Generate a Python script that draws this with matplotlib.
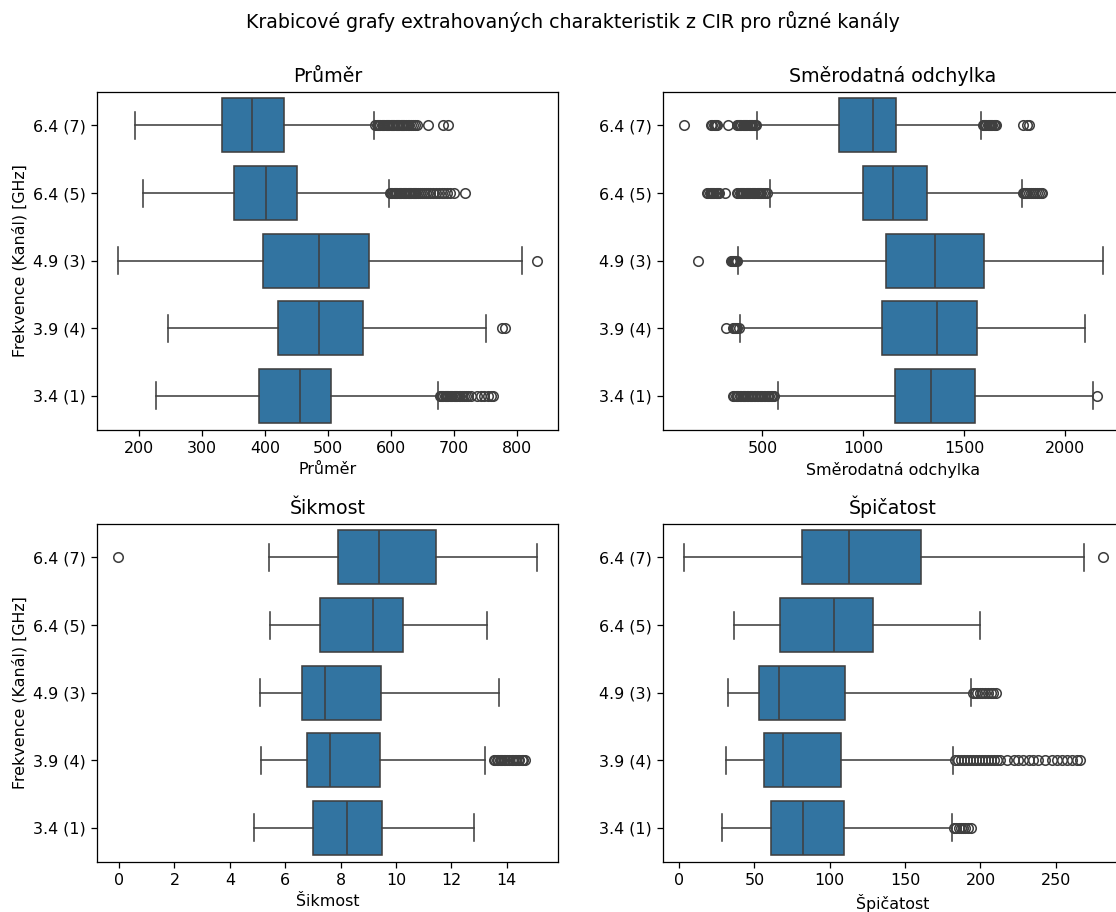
import matplotlib
matplotlib.use("Agg")
import matplotlib.pyplot as plt

# Channel labels (top to bottom)
channels = ["6.4 (7)", "6.4 (5)", "4.9 (3)", "3.9 (4)", "3.4 (1)"]

# --- Průměr (mean) ---
mean_q1 = [332, 350.6, 396.5, 421, 390]
mean_med = [379.5, 402, 485, 485.7, 455]
mean_q3 = [429.8, 450, 564.5, 554.5, 504]
mean_lo = [194, 206, 166.7, 245, 226]
mean_hi = [573, 596, 808, 751, 675]
mean_fliers = [
    [575, 577, 579, 581, 583, 585, 587, 589, 591, 593, 595, 597, 599, 601, 603,
     605, 607, 609, 611, 613, 615, 617, 619, 621, 623, 626, 629, 632, 635, 638,
     641, 658, 682, 691],
    [598, 600, 602, 604, 606, 608, 610, 612, 614, 616, 618, 620, 622, 624, 626,
     628, 630, 632, 634, 636, 638, 640, 643, 646, 649, 652, 655, 658, 661, 666,
     671, 676, 680, 684, 689, 694, 700, 718],
    [832],
    [776, 780],
    [677, 679, 681, 683, 685, 687, 689, 691, 693, 695, 697, 699, 701, 703, 705,
     707, 710, 713, 716, 719, 722, 727, 737, 742, 748, 753, 758, 762],
]

# --- Směrodatná odchylka (standard deviation) ---
std_q1 = [880, 999, 1111, 1093, 1159]
std_med = [1047, 1146, 1357, 1364, 1334]
std_q3 = [1164, 1317, 1600, 1563, 1555]
std_lo = [472, 538, 381, 390, 578]
std_hi = [1585, 1786, 2186, 2098, 2141]
std_fliers = [
    [109, 246, 252, 258, 264, 270, 277, 329, 372, 378, 384, 390, 396, 402, 408,
     414, 420, 426, 432, 438, 444, 450, 456, 462, 468,
     1592, 1598, 1604, 1610, 1616, 1622, 1628, 1634, 1640, 1646, 1652, 1658,
     1793, 1814, 1822],
    [226, 232, 238, 244, 250, 256, 262, 268, 274, 280, 285, 315, 375, 381, 387,
     393, 399, 405, 411, 417, 423, 429, 435, 441, 447, 453, 459, 465, 471, 477,
     483, 489, 495, 505, 515, 525,
     1790, 1796, 1802, 1808, 1814, 1820, 1830, 1840, 1850, 1860, 1870, 1880, 1887],
    [180, 345, 350, 355, 360, 365, 370, 375],
    [320, 352, 358, 364, 370, 376, 382],
    [353, 360, 367, 374, 381, 388, 395, 402, 409, 416, 423, 430, 437, 444, 451,
     458, 465, 472, 479, 486, 493, 500, 507, 514, 521, 528, 535, 542, 549, 556,
     2161],
]

# --- Šikmost (skewness) ---
skew_q1 = [7.92, 7.27, 6.61, 6.78, 6.99]
skew_med = [9.40, 9.17, 7.45, 7.63, 8.25]
skew_q3 = [11.46, 10.24, 9.48, 9.42, 9.49]
skew_lo = [5.43, 5.46, 5.10, 5.11, 4.88]
skew_hi = [15.11, 13.30, 13.71, 13.22, 12.83]
skew_fliers = [
    [-0.03],
    [],
    [],
    [13.55, 13.6, 13.65, 13.7, 13.75, 13.8, 13.85, 13.9, 13.95, 14.0, 14.1,
     14.2, 14.25, 14.3, 14.35, 14.4, 14.45, 14.55, 14.6, 14.65],
    [],
]

# --- Špičatost (kurtosis) ---
kurt_q1 = [81.4, 66.8, 53.3, 56.6, 60.8]
kurt_med = [112.6, 102.7, 66.2, 69.0, 81.9]
kurt_q3 = [160.2, 128.8, 110.4, 107.1, 109.3]
kurt_lo = [2.9, 36.5, 32.5, 31.4, 28.5]
kurt_hi = [268.8, 200.0, 194.0, 181.6, 181.0]
kurt_fliers = [
    [281.0],
    [],
    [195, 196.5, 198, 199.5, 201, 203, 205, 207, 208.5, 210],
    [183, 185, 187, 189, 191, 193, 195, 197, 199, 201, 203, 205, 207, 209, 211,
     213, 217.5, 222, 225, 228.5, 232, 235, 238.5, 243, 247.5, 250.7, 254,
     257.3, 260.6, 264, 266],
    [182.5, 184, 185.5, 187, 188.5, 190, 192, 194],
]

panels = [
    ("Průměr", mean_q1, mean_med, mean_q3, mean_lo, mean_hi, mean_fliers),
    ("Směrodatná odchylka", std_q1, std_med, std_q3, std_lo, std_hi, std_fliers),
    ("Šikmost", skew_q1, skew_med, skew_q3, skew_lo, skew_hi, skew_fliers),
    ("Špičatost", kurt_q1, kurt_med, kurt_q3, kurt_lo, kurt_hi, kurt_fliers),
]

FACE = "#3274a1"
LINE = "#3f3f3f"
LW = 1.0

DPI = 114
fig, axes = plt.subplots(2, 2, figsize=(1116 / DPI, 912 / DPI), dpi=DPI)
fig.subplots_adjust(left=0.0872, right=1.0067, bottom=0.0552, top=0.8995,
                    wspace=0.2263, hspace=0.278)

for idx, (ax, (name, q1, med, q3, lo, hi, fl)) in enumerate(zip(axes.flat, panels)):
    stats = []
    for i in range(len(channels)):
        stats.append(dict(q1=q1[i], med=med[i], q3=q3[i],
                          whislo=lo[i], whishi=hi[i], fliers=fl[i]))
    ax.bxp(stats, positions=range(len(channels)), widths=0.8, capwidths=0.4,
           orientation="horizontal", patch_artist=True, manage_ticks=False,
           boxprops=dict(facecolor=FACE, edgecolor=LINE, linewidth=LW),
           medianprops=dict(color=LINE, linewidth=LW),
           whiskerprops=dict(color=LINE, linewidth=LW),
           capprops=dict(color=LINE, linewidth=LW),
           flierprops=dict(marker="o", markersize=6, markerfacecolor="none",
                           markeredgecolor=LINE, markeredgewidth=LW,
                           linestyle="none"))
    ax.set_yticks(range(len(channels)))
    ax.set_yticklabels(channels)
    ax.set_ylim(len(channels) - 0.5, -0.5)
    ax.set_title(name, fontsize=12)
    ax.set_xlabel(name)
    if idx % 2 == 0:
        ax.set_ylabel("Frekvence (Kanál) [GHz]")

fig.suptitle("Krabicové grafy extrahovaných charakteristik z CIR pro různé kanály",
             x=573 / 1116, y=1 - 22 / 912, va="center", fontsize=12)

fig.savefig("out.png", dpi=DPI)
